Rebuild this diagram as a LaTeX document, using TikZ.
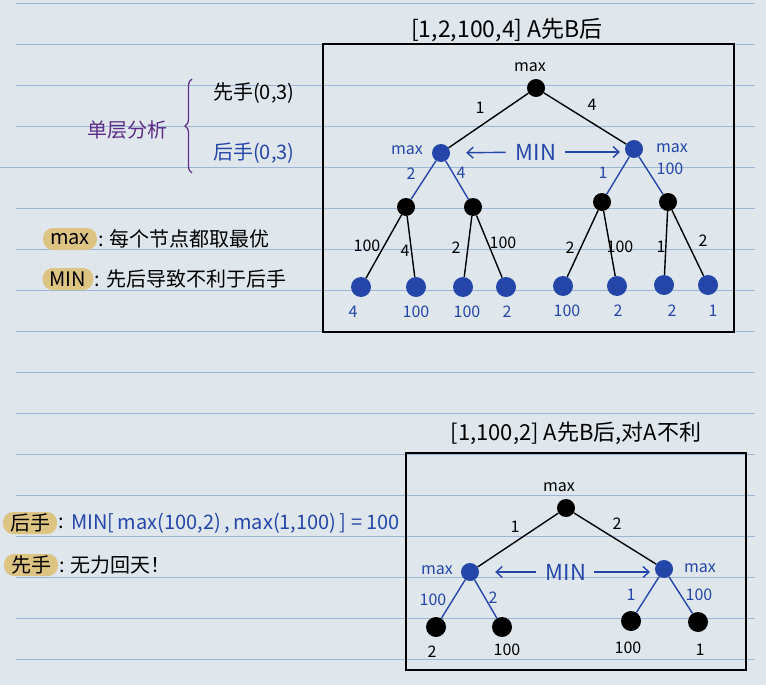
\documentclass[tikz,border=0pt]{standalone}
\usepackage{fontspec}
\setmainfont{Noto Sans CJK SC}
\usetikzlibrary{arrows.meta,decorations.pathreplacing,positioning}

\definecolor{paper}{RGB}{223,231,237}
\definecolor{ruleLine}{RGB}{155,182,215}
\definecolor{ink}{RGB}{36,70,168}
\definecolor{inkPurple}{RGB}{95,45,135}
\definecolor{marker}{RGB}{222,196,130}

\tikzset{
  blackNode/.style={circle, fill=black, inner sep=0pt, minimum size=18pt},
  blueNode/.style={circle, fill=ink, inner sep=0pt, minimum size=18pt},
  leafNode/.style={circle, fill=ink, inner sep=0pt, minimum size=20pt},
  bigLeaf/.style={circle, fill=black, inner sep=0pt, minimum size=20pt},
  edge/.style={line width=1.4pt},
  blueEdge/.style={line width=1.4pt, draw=ink},
  num/.style={inner sep=0pt, font=\fontsize{16}{16}\selectfont},
  blueNum/.style={num, text=ink},
  minLabel/.style={inner sep=0pt, text=ink, font=\fontsize{22}{22}\selectfont},
  minArrow/.style={draw=ink, line width=1.4pt, -{Straight Barb[length=6pt,width=11pt]}},
  note/.style={inner sep=0pt, font=\fontsize{20}{20}\selectfont},
  hiLite/.style={note, fill=marker, rounded corners=10pt, inner xsep=7pt, minimum height=22pt},
  frameBox/.style={line width=1.6pt}
}

\begin{document}
\begin{tikzpicture}[x=1pt, y=-1pt]
\useasboundingbox[fill=paper] (0,0) rectangle (766,685);
% ruled paper
\foreach \y in {3,44,85,126,208,249,290,331,372,413,454,495,536,577,618,659}
  \draw[ruleLine, line width=0.8pt] (16,\y) -- (755,\y);
\draw[ruleLine, line width=0.8pt] (0,167) -- (755,167);

% left notes
\node[note, text=inkPurple] (layerNote) at (127,130) {单层分析};
\coordinate (braceTop) at (192,79);
\coordinate (braceBot) at (192,173);
\draw[inkPurple, line width=1.3pt, decorate, decoration={brace, amplitude=7pt}] (braceBot) -- (braceTop);
\node[note, anchor=west] (firstMove) at (213,93) {先手(0,3)};
\node[note, anchor=west, text=ink] (secondMove) at (213,153) {后手(0,3)};

\node[hiLite] (maxKey) at (70,239) {max};
\node[note, right=1pt of maxKey] (maxNote) {: 每个节点都取最优};
\node[hiLite] (minKey) at (68,279) {MIN};
\node[note, right=1pt of minKey] (minNote) {: 先后导致不利于后手};

% first tree
\node[note, font=\fontsize{23}{23}\selectfont] (titleA) at (507,30) {[1,2,100,4]\ A先B后};
\draw[frameBox] (323,44) rectangle (734,332);

\node[blackNode] (rootA) at (536,88) {};
\node[num] (rootAmax) at (530,67) {max};
\node[blueNode] (leftA) at (441,153) {};
\node[blueNode] (rightA) at (634,149) {};
\node[blueNum] (leftAmax) at (407,150) {max};
\node[blueNum] (rightAmax) at (672,148) {max};
\node[blackNode] (llA) at (406,207) {};
\node[blackNode] (lrA) at (473,207) {};
\node[blackNode] (rlA) at (602,202) {};
\node[blackNode] (rrA) at (668,202) {};
\node[leafNode] (leafA1) at (361,287) {};
\node[leafNode] (leafA2) at (416,287) {};
\node[leafNode] (leafA3) at (463,287) {};
\node[leafNode] (leafA4) at (506,287) {};
\node[leafNode] (leafA5) at (563,286) {};
\node[leafNode] (leafA6) at (617,286) {};
\node[leafNode] (leafA7) at (664,285) {};
\node[leafNode] (leafA8) at (708,285) {};

\draw[edge] (rootA) -- (leftA);
\draw[edge] (rootA) -- (rightA);
\draw[blueEdge] (leftA) -- (llA);
\draw[blueEdge] (leftA) -- (lrA);
\draw[blueEdge] (rightA) -- (rlA);
\draw[blueEdge] (rightA) -- (rrA);
\draw[edge] (llA) -- (leafA1);
\draw[edge] (llA) -- (leafA2);
\draw[edge] (lrA) -- (leafA3);
\draw[edge] (lrA) -- (leafA4);
\draw[edge] (rlA) -- (leafA5);
\draw[edge] (rlA) -- (leafA6);
\draw[edge] (rrA) -- (leafA7);
\draw[edge] (rrA) -- (leafA8);

\node[num] (wA1) at (480,108) {1};
\node[num] (wA2) at (592,105) {4};
\node[blueNum] (wA3) at (411,174) {2};
\node[blueNum] (wA4) at (461,173) {4};
\node[blueNum] (wA5) at (603,173) {1};
\node[blueNum] (wA6) at (670,169) {100};
\node[num] (wA7) at (367,246) {100};
\node[num] (wA8) at (405,251) {4};
\node[num] (wA9) at (456,248) {2};
\node[num] (wA10) at (503,243) {100};
\node[num] (wA11) at (570,248) {2};
\node[num] (wA12) at (620,247) {100};
\node[num] (wA13) at (661,247) {1};
\node[num] (wA14) at (703,241) {2};

\node[blueNum] (valA1) at (353,312) {4};
\node[blueNum] (valA2) at (416,312) {100};
\node[blueNum] (valA3) at (467,312) {100};
\node[blueNum] (valA4) at (507,312) {2};
\node[blueNum] (valA5) at (567,311) {100};
\node[blueNum] (valA6) at (618,311) {2};
\node[blueNum] (valA7) at (672,311) {2};
\node[blueNum] (valA8) at (713,311) {1};

\node[minLabel] (minA) at (536,152) {MIN};
\draw[minArrow, shorten <=10pt, shorten >=16pt] (minA) -- (leftA);
\draw[minArrow, shorten <=9pt, shorten >=14pt] (minA) -- (minA -| rightA);

% lower notes
\node[hiLite] (secondKey) at (30,523) {后手};
\node[note, right=1pt of secondKey] (colonB) {:};
\node[note, anchor=west, text=ink] (formula) at (71,523) {MIN[\,max(100,2)\,,\,max(1,100)\,] = 100};
\node[hiLite] (firstKey) at (31,565) {先手};
\node[note, right=1pt of firstKey] (lostNote) {: 无力回天！};

% second tree
\node[note, font=\fontsize{22}{22}\selectfont] (titleB) at (576,433) {[1,100,2]\ A先B后,对A不利};
\draw[frameBox] (406,453) rectangle (746,670);

\node[blackNode] (rootB) at (566,508) {};
\node[num] (rootBmax) at (559,487) {max};
\node[blueNode] (leftB) at (470,572) {};
\node[blueNode] (rightB) at (664,569) {};
\node[blueNum] (leftBmax) at (437,570) {max};
\node[blueNum] (rightBmax) at (700,568) {max};
\node[bigLeaf] (leafB1) at (436,627) {};
\node[bigLeaf] (leafB2) at (502,627) {};
\node[bigLeaf] (leafB3) at (631,621) {};
\node[bigLeaf] (leafB4) at (698,622) {};

\draw[edge] (rootB) -- (leftB);
\draw[edge] (rootB) -- (rightB);
\draw[blueEdge] (leftB) -- (leafB1);
\draw[blueEdge] (leftB) -- (leafB2);
\draw[blueEdge] (rightB) -- (leafB3);
\draw[blueEdge] (rightB) -- (leafB4);

\node[num] (wB1) at (515,527) {1};
\node[num] (wB2) at (617,524) {2};
\node[blueNum] (wB3) at (433,600) {100};
\node[blueNum] (wB4) at (493,598) {2};
\node[blueNum] (wB5) at (631,595) {1};
\node[blueNum] (wB6) at (699,595) {100};

\node[num] (valB1) at (432,652) {2};
\node[num] (valB2) at (507,650) {100};
\node[num] (valB3) at (628,648) {100};
\node[num] (valB4) at (700,650) {1};

\node[minLabel] (minB) at (566,572) {MIN};
\draw[minArrow, shorten <=10pt, shorten >=16pt] (minB) -- (leftB);
\draw[minArrow, shorten <=8pt, shorten >=14pt] (minB) -- (minB -| rightB);
\end{tikzpicture}
\end{document}
